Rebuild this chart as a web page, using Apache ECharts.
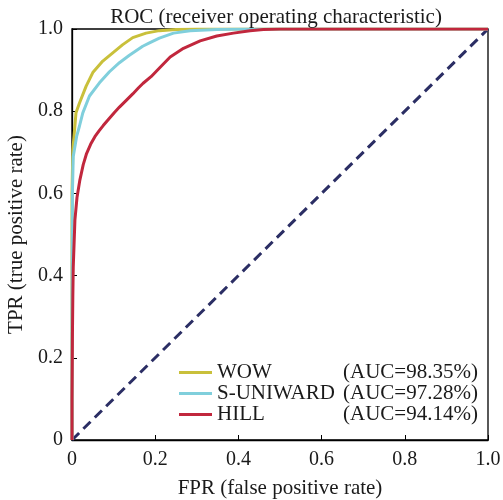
<!DOCTYPE html>
<html>
<head>
<meta charset="utf-8">
<script src="https://cdn.jsdelivr.net/npm/echarts@6/dist/echarts.min.js"></script>
<style>html,body{margin:0;padding:0;background:#fff}#c{width:503px;height:500px}</style>
</head>
<body>
<div id="c"></div>
<script>
var axisTicks = [0, 0.2, 0.4, 0.6, 0.8, 1.0];
var seriesNames = ['WOW', 'S-UNIWARD', 'HILL'];
var aucLabels = ['(AUC=98.35%)', '(AUC=97.28%)', '(AUC=94.14%)'];

var wowFpr = [0, 0, 0.002, 0.0096, 0.018, 0.034, 0.05, 0.074, 0.098, 0.122, 0.146, 0.178, 0.21, 0.25, 0.3, 1];
var wowTpr = [0, 0.6, 0.705, 0.796, 0.82, 0.861, 0.894, 0.922, 0.942, 0.962, 0.979, 0.99, 0.996, 0.999, 1, 1];

var suniFpr = [0, 0, 0.001, 0.003, 0.011, 0.018, 0.026, 0.042, 0.066, 0.09, 0.114, 0.138, 0.17, 0.1875, 0.21, 0.244, 0.284, 0.348, 0.42, 1];
var suniTpr = [0, 0.3, 0.6, 0.69, 0.738, 0.764, 0.796, 0.837, 0.869, 0.896, 0.918, 0.936, 0.958, 0.967, 0.978, 0.99, 0.996, 0.999, 1, 1];

var hillFpr = [0, 0, 0.001, 0.002, 0.003, 0.007, 0.012, 0.019, 0.027, 0.035, 0.045, 0.055, 0.065, 0.075, 0.09, 0.102, 0.114, 0.131, 0.146, 0.16, 0.171, 0.19, 0.212, 0.236, 0.268, 0.308, 0.348, 0.388, 0.428, 0.46, 0.5, 1];
var hillTpr = [0, 0.1, 0.25, 0.35, 0.42, 0.535, 0.59, 0.633, 0.67, 0.697, 0.72, 0.738, 0.752, 0.765, 0.783, 0.797, 0.81, 0.827, 0.842, 0.857, 0.868, 0.884, 0.907, 0.932, 0.953, 0.971, 0.983, 0.99, 0.996, 0.999, 1, 1];

var diagFpr = [0, 1];
var diagTpr = [0, 1];

function pairs(xs, ys) { return xs.map(function (x, i) { return [x, ys[i]]; }); }

var FONT = '"Liberation Serif", "Times New Roman", serif';
var colors = ['#c9c03b', '#80cfdc', '#c1273d'];
var aucMap = {};
seriesNames.forEach(function (n, i) { aucMap[n] = aucLabels[i]; });

var chart = echarts.init(document.getElementById('c'), null, { renderer: 'canvas' });
chart.setOption({
  animation: false,
  backgroundColor: '#fff',
  title: {
    text: 'ROC (receiver operating characteristic)',
    left: 271, top: 2, textAlign: 'center',
    textStyle: { fontFamily: FONT, fontSize: 21, fontWeight: 'normal', color: '#1a1a1a' }
  },
  grid: { left: 72, top: 29, right: 15, bottom: 60, outerBoundsMode: 'none', containLabel: false,
    show: true, borderColor: '#000', borderWidth: 1.3, backgroundColor: 'transparent' },
  xAxis: {
    type: 'value', min: 0, max: 1, interval: 0.2,
    name: 'FPR (false positive rate)', nameLocation: 'middle', nameGap: 38,
    nameTextStyle: { fontFamily: FONT, fontSize: 21, color: '#1a1a1a' },
    axisLine: { show: true, onZero: false, lineStyle: { color: '#000', width: 1.3 } },
    axisTick: { show: true, inside: true, length: 5, lineStyle: { color: '#000', width: 1 } },
    axisLabel: { margin: 10, fontFamily: FONT, fontSize: 20, color: '#1a1a1a',
      formatter: function (v) { return axisTicks.indexOf(v) >= 0 ? (v === 0 ? '0' : v.toFixed(1)) : ''; } },
    splitLine: { show: false }
  },
  yAxis: {
    type: 'value', min: 0, max: 1, interval: 0.2,
    name: 'TPR (true positive rate)', nameLocation: 'middle', nameGap: 44,
    nameTextStyle: { fontFamily: FONT, fontSize: 21, color: '#1a1a1a' },
    axisLine: { show: true, onZero: false, lineStyle: { color: '#000', width: 1.3 } },
    axisTick: { show: true, inside: true, length: 5, lineStyle: { color: '#000', width: 1 } },
    axisLabel: { margin: 9, fontFamily: FONT, fontSize: 20, color: '#1a1a1a',
      formatter: function (v) { return v === 0 ? '0' : v.toFixed(1); } },
    splitLine: { show: false }
  },
  legend: {
    data: seriesNames,
    orient: 'vertical', left: 174, top: 357,
    icon: 'rect', itemWidth: 33, itemHeight: 3, itemGap: 0,
    textStyle: { fontFamily: FONT, fontSize: 21, color: '#1a1a1a', lineHeight: 20.7,
      rich: {
        n: { fontFamily: FONT, fontSize: 21, color: '#1a1a1a', width: 126, lineHeight: 20.7 },
        a: { fontFamily: FONT, fontSize: 21, color: '#1a1a1a', lineHeight: 20.7 }
      } },
    formatter: function (name) { return '{n|' + name + '}{a|' + aucMap[name] + '}'; }
  },
  series: [
    { name: 'WOW', type: 'line', data: pairs(wowFpr, wowTpr), showSymbol: false, symbol: 'none',
      lineStyle: { color: colors[0], width: 3 }, itemStyle: { color: colors[0] }, z: 3 },
    { name: 'S-UNIWARD', type: 'line', data: pairs(suniFpr, suniTpr), showSymbol: false, symbol: 'none',
      lineStyle: { color: colors[1], width: 3 }, itemStyle: { color: colors[1] }, z: 3 },
    { name: 'HILL', type: 'line', data: pairs(hillFpr, hillTpr), showSymbol: false, symbol: 'none',
      lineStyle: { color: colors[2], width: 3 }, itemStyle: { color: colors[2] }, z: 3 },
    { name: 'diag', type: 'line', data: pairs(diagFpr, diagTpr), showSymbol: false, symbol: 'none',
      lineStyle: { color: '#2b2e64', width: 3, type: [10, 6] }, z: 2 }
  ]
});
</script>
</body>
</html>
